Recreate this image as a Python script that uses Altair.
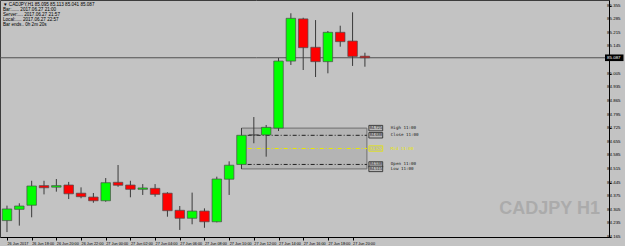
import altair as alt
import pandas as pd

# ---- data ----
bar_time = ["26 Jun 16:00", "26 Jun 17:00", "26 Jun 18:00", "26 Jun 19:00", "26 Jun 20:00",
            "26 Jun 21:00", "26 Jun 22:00", "26 Jun 23:00", "27 Jun 00:00", "27 Jun 01:00",
            "27 Jun 02:00", "27 Jun 03:00", "27 Jun 04:00", "27 Jun 05:00", "27 Jun 06:00",
            "27 Jun 07:00", "27 Jun 08:00", "27 Jun 09:00", "27 Jun 10:00", "27 Jun 11:00",
            "27 Jun 12:00", "27 Jun 13:00", "27 Jun 14:00", "27 Jun 15:00", "27 Jun 16:00",
            "27 Jun 17:00", "27 Jun 18:00", "27 Jun 19:00", "27 Jun 20:00", "27 Jun 21:00"]
opens = [84.249, 84.307, 84.328, 84.429, 84.421, 84.432, 84.390, 84.370, 84.351, 84.446,
         84.432, 84.410, 84.415, 84.390, 84.302, 84.261, 84.298, 84.243, 84.462, 84.538,
         84.690, 84.690, 84.725, 85.070, 85.287, 85.141, 85.067, 85.218, 85.173, 85.095]
highs = [84.326, 84.338, 84.454, 84.454, 84.463, 84.448, 84.420, 84.391, 84.468, 84.535,
         84.454, 84.437, 84.437, 84.395, 84.324, 84.393, 84.312, 84.475, 84.554, 84.725,
         84.782, 84.741, 85.086, 85.316, 85.293, 85.281, 85.225, 85.252, 85.321, 85.113]
lows = [84.190, 84.223, 84.266, 84.384, 84.398, 84.360, 84.364, 84.341, 84.346, 84.423,
        84.369, 84.381, 84.372, 84.269, 84.201, 84.230, 84.212, 84.240, 84.381, 84.515,
        84.647, 84.578, 84.710, 85.050, 85.024, 84.988, 85.007, 85.144, 85.045, 85.041]
closes = [84.309, 84.324, 84.427, 84.418, 84.429, 84.387, 84.372, 84.351, 84.444, 84.431,
          84.410, 84.417, 84.384, 84.300, 84.261, 84.298, 84.243, 84.463, 84.534, 84.688,
          84.690, 84.729, 85.070, 85.290, 85.139, 85.067, 85.218, 85.170, 85.094, 85.087]

x_tick_values = [0, 2, 4, 6, 8, 10, 12, 14, 16, 18, 20, 22, 24, 26, 28]
x_tick_labels = ["26 Jun 2017", "26 Jun 18:00", "26 Jun 20:00", "26 Jun 22:00", "27 Jun 00:00",
                 "27 Jun 02:00", "27 Jun 04:00", "27 Jun 06:00", "27 Jun 08:00", "27 Jun 10:00",
                 "27 Jun 12:00", "27 Jun 14:00", "27 Jun 16:00", "27 Jun 18:00", "27 Jun 20:00"]
y_tick_values = [84.165, 84.235, 84.305, 84.375, 84.445, 84.515, 84.585, 84.655, 84.725,
                 84.795, 84.865, 84.935, 85.005, 85.145, 85.215, 85.285, 85.355]

current_price = 85.087
header_lines = ["\u25bc CADJPY,H1  85.095 85.113 85.041 85.087",
                "Bar:......  2017.06.27 21:00",
                "Server:....  2017.06.27 21:57",
                "Local:.....  2017.06.27 22:57",
                "Bar ends..  0h 2m 20s"]
watermark = "CADJPY H1"

# 11:00 candle levels box
level_names = ["High 11:00", "Close 11:00", "Mid 11:00", "Open 11:00", "Low 11:00"]
level_values = [84.725, 84.688, 84.620, 84.538, 84.515]
level_colors = ["#202020", "#202020", "#E8E800", "#202020", "#202020"]
box_start_bar = 19
box_end_bar = 29.16

# ---- tables ----
df = pd.DataFrame({"idx": list(range(len(opens))), "time": bar_time,
                   "open": opens, "high": highs, "low": lows, "close": closes})
lv = pd.DataFrame({"name": level_names, "value": level_values, "color": level_colors,
                   "label": [f"{v:.3f}" for v in level_values]})
box = pd.DataFrame({"x1": [box_start_bar], "x2": [box_end_bar],
                    "y1": [level_values[0]], "y2": [level_values[-1]]})
lines_df = lv.iloc[1:4].copy()
yt = pd.DataFrame({"v": y_tick_values, "label": [f"{v:.3f}" for v in y_tick_values]})

xscale = alt.Scale(domain=[-0.16, 48.37], nice=False, zero=False)
yscale = alt.Scale(domain=[84.1646, 85.3843], nice=False, zero=False)

label_expr = "[" + ",".join(f"'{s}'" for s in x_tick_labels) + "][round(datum.value/2)]"

X = alt.X("idx:Q", scale=xscale,
          axis=alt.Axis(values=x_tick_values, labelExpr=label_expr, orient="bottom",
                        labelAlign="left", labelBaseline="top", labelFontSize=3.8,
                        labelPadding=1, tickSize=3, tickColor="#000000",
                        domainColor="#000000", labelColor="#000000", grid=False,
                        title=None, labelFont="Liberation Sans", labelOverlap=False,
                        labelFlush=False))
Y = alt.Y("low:Q", scale=yscale,
          axis=alt.Axis(values=y_tick_values, labels=False, orient="right",
                        tickSize=2, tickColor="#000000",
                        domainColor="#000000", grid=False, title=None))

base = alt.Chart(df)

# invisible layer that carries both axes
axes_layer = base.mark_point(opacity=0).encode(x=X, y=Y)

# price scale labels on the right
y_labels = alt.Chart(yt).mark_text(fontSize=4.4, font="Liberation Sans", align="left",
                                   baseline="middle", color="#000000", clip=False).encode(
    x=alt.datum(48.62, scale=xscale), y=alt.Y("v:Q", scale=yscale), text="label:N")

rect = alt.Chart(box).mark_rect(fill="#B4B4B4", stroke="#6E6E6E", strokeWidth=1).encode(
    x=alt.X("x1:Q", scale=xscale), x2="x2:Q",
    y=alt.Y("y1:Q", scale=yscale), y2="y2:Q")

level_lines = alt.Chart(lines_df).mark_rule(strokeDash=[4, 2, 1, 2], strokeWidth=1).encode(
    x=alt.datum(box_start_bar + 0.5, scale=xscale), x2=alt.datum(box_end_bar),
    y=alt.Y("value:Q", scale=yscale),
    color=alt.Color("color:N", scale=None))

price_line = alt.Chart(pd.DataFrame({"p": [current_price]})).mark_rule(
    color="#505050", strokeWidth=1).encode(y=alt.Y("p:Q", scale=yscale))

wicks = base.mark_rule(color="#3A3A3A", strokeWidth=1).encode(
    x=alt.X("idx:Q", scale=xscale), y=alt.Y("low:Q", scale=yscale), y2="high:Q")

bodies = base.mark_bar(size=9.5, stroke="#4A4A4A", strokeWidth=0.7).encode(
    x=alt.X("idx:Q", scale=xscale),
    y=alt.Y("open:Q", scale=yscale), y2="close:Q",
    color=alt.condition("datum.close >= datum.open", alt.value("#00FF00"), alt.value("#FF0000")))

lab_boxes = alt.Chart(lv).transform_calculate(
    top="datum.value + 0.014", bot="datum.value - 0.014").mark_rect(
    fill="#B8B8B8", strokeWidth=0.8).encode(
    x=alt.datum(29.32, scale=xscale), x2=alt.datum(30.44),
    y=alt.Y("top:Q", scale=yscale), y2="bot:Q",
    stroke=alt.Stroke("color:N", scale=None))
lab_vals = alt.Chart(lv).mark_text(fontSize=4.0, font="Liberation Sans", align="center",
                                   baseline="middle").encode(
    x=alt.datum(29.88, scale=xscale), y=alt.Y("value:Q", scale=yscale), text="label:N",
    color=alt.Color("color:N", scale=None))
lab_names = alt.Chart(lv).mark_text(fontSize=4.2, font="DejaVu Sans Mono", align="left",
                                    baseline="middle").encode(
    x=alt.datum(31.1, scale=xscale), y=alt.Y("value:Q", scale=yscale), text="name:N",
    color=alt.Color("color:N", scale=None))

cp_df = pd.DataFrame({"p": [current_price], "label": [f"{current_price:.3f}"]})
cp_box = alt.Chart(cp_df).transform_calculate(
    top="datum.p + 0.017", bot="datum.p - 0.017").mark_rect(
    fill="#000000", clip=False).encode(
    x=alt.datum(48.45, scale=xscale), x2=alt.datum(49.95),
    y=alt.Y("top:Q", scale=yscale), y2="bot:Q")
cp_text = alt.Chart(cp_df).mark_text(fontSize=4.4, font="Liberation Sans", color="#FFFFFF",
                                     align="left", baseline="middle", clip=False).encode(
    x=alt.datum(48.62, scale=xscale), y=alt.Y("p:Q", scale=yscale), text="label:N")

header = alt.Chart(pd.DataFrame({"k": [0]})).mark_text(
    fontSize=4.6, font="Liberation Sans", align="left", baseline="top", lineHeight=5,
    color="#000000").encode(
    x=alt.value(3), y=alt.value(1.5), text=alt.value(header_lines))

wm = alt.Chart(pd.DataFrame({"t": [watermark]})).mark_text(
    fontSize=18, font="Liberation Sans", fontWeight="bold",
    align="right", baseline="middle", color="#ABABAB").encode(
    x=alt.value(600), y=alt.value(209), text="t:N")

chart = alt.layer(axes_layer, wm, rect, level_lines, price_line, wicks, bodies, lab_boxes,
                  lab_vals, lab_names, y_labels, cp_box, cp_text, header).properties(
    width=609, height=237,
    padding={"left": 0, "top": 0, "right": 16, "bottom": 9},
    autosize=alt.AutoSizeParams(type="none"),
    background="#C3C3C3",
).configure_view(stroke="#3C3C3C", strokeWidth=1, fill="#C3C3C3"
).configure_axis(labelOverlap=False)

chart.save("out.html", embed_options={"renderer": "svg", "actions": False})
